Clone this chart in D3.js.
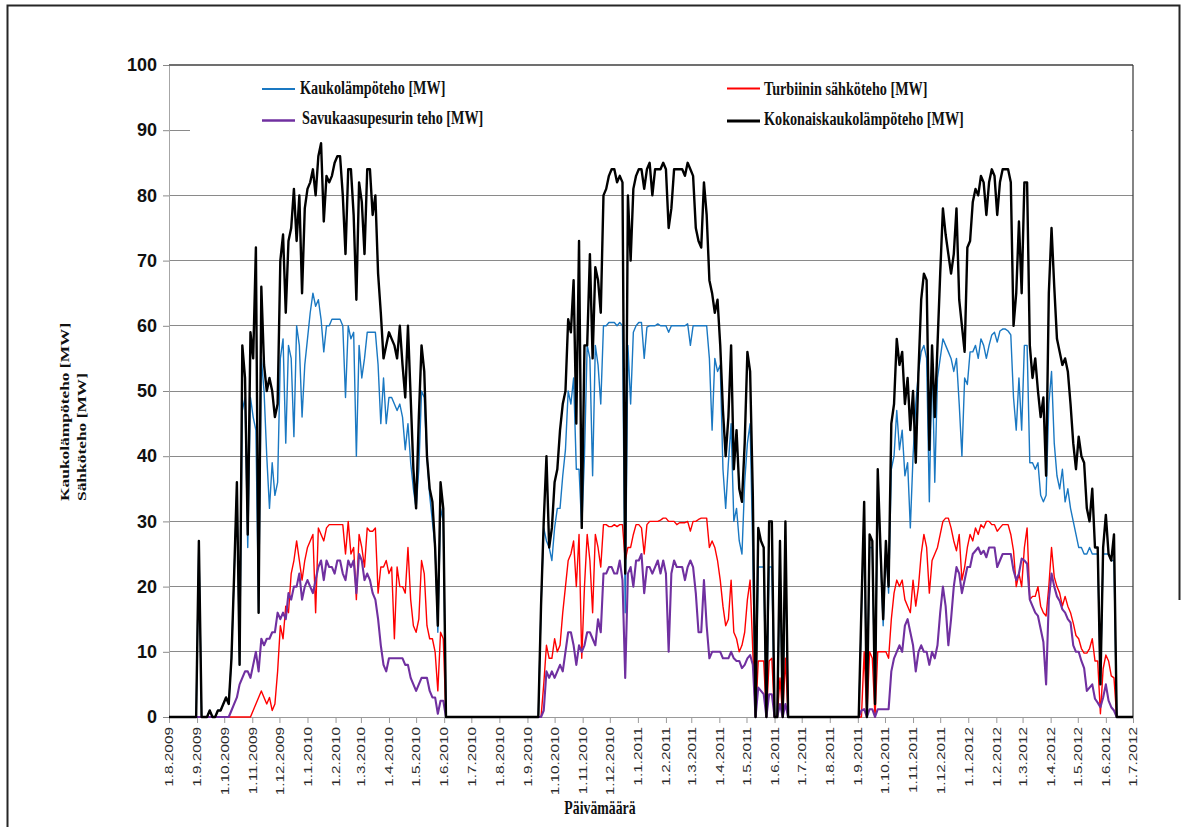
<!DOCTYPE html>
<html><head><meta charset="utf-8">
<script src="https://cdn.jsdelivr.net/npm/d3@7"></script>
<style>html,body{margin:0;padding:0;background:#fff;}svg{display:block;}</style>
</head><body>
<svg id="chart" width="1185" height="827"></svg>
<script>
// ---- data (daily values sampled every 3rd day, 1.8.2009 - 1.7.2012) ----
const startDate = "2009-08-01";
const endDate = "2012-07-01";
const stepDays = 3;

const seriesNames = ["Kaukolämpöteho [MW]", "Turbiinin sähköteho [MW]", "Savukaasupesurin teho [MW]", "Kokonaiskaukolämpöteho [MW]"];

const kaukolampoteho = [
0,0,0,0,0,0,0,0,0,0,
0,27,0,0,0,1,0,0,1,1,
2,3,2,9,22,35,8,47,49,26,
49,46,44,16,55,50,40,32,39,34,
36,55,58,42,57,55,43,60,57,46,
54,58,62,65,63,64,61,56,60,60,
61,61,61,61,60,49,60,58,59,40,
57,52,55,59,59,59,59,54,45,52,
45,49,49,48,47,48,46,41,45,39,
35,32,38,50,49,40,34,30,26,13,
32,30,0,0,0,0,0,0,0,0,
0,0,0,0,0,0,0,0,0,0,
0,0,0,0,0,0,0,0,0,0,
0,0,0,0,0,0,0,17,29,27,
26,24,29,32,32,37,41,50,48,52,
38,38,29,40,57,55,37,57,54,48,
60,60,60.5,60.5,60.5,60,60.5,60,16,57,
48,59,60,60.5,60.5,55,59.8,60,60,60,
60.3,60,60,60,59,60,60,60,60,60,
60,60.3,57,60,60,60,60,60,60,55,
44,55,53,54,38,32,39,45,30,32,
27,25,36,42,45,25,0,23,23,23,
0,23,23,0,0,24,0,25,0,0,
0,0,0,0,0,0,0,0,0,0,
0,0,0,0,0,0,0,0,0,0,
0,0,0,0,0,16,31,0,26,26,
2,36,25,14,26,19,38,40,47,41,
44,37,39,29,40,48,53,56,57,55,
33,56,36,52,55,58,57,56,55,53,
55,48,40,52,51,56,56,57,55,58,
57,55,57,58.6,59,57.5,59.2,59.5,59.5,59.2,
58.6,49,44,52,44,57,57,39,39,38,
39,34,33,34,48,53,42,37,35,38,
33,35,32,30,28,26,26,25,25,26,
25,25,25,5,25,25,25,24,24,0,
0,0,0,0,0,0
];

const turbiininSahkoteho = [
0,0,0,0,0,0,0,0,0,0,
0,0,0,0,0,0,0,0,0,0,
0,0,0,0,0,0,0,0,0,0,
0,1,2,3,4,3,2,3,1,2,
7,14,12,17,16,22,24,27,24,21,
24,26,27,28,16,29,28,27,29,29.5,
29.5,29.5,29.5,29.5,29.5,25,30,25,26,18,
28,26,23,29,28.5,28.5,29,19,23,23,
24,22,23,12,23,20,20,19,26,18,
14,13,15,24,22,14,12,12,10,4,
13,12,0,0,0,0,0,0,0,0,
0,0,0,0,0,0,0,0,0,0,
0,0,0,0,0,0,0,0,0,0,
0,0,0,0,0,0,0,0,5,11,
9,9,12,10,11,16,20,24,25,27,
20,28,9,20,28,24,16,28,26,23,
29.5,29.5,29.2,29.2,29.5,29.2,29.5,29.5,24,26,
26,28,29.5,29.5,29,25,29.5,30,30,30,
30,30.2,30.5,30.5,30,30,30,29.5,29.8,29.8,
29.8,30,28.5,30,30,30.3,30.5,30.5,30.5,26,
27,26,24,21,17,14,15,21,13,12,
10,11,13,18,21,10,0,8.6,8.6,8.6,
0,8.6,9,0,0,6,0,9,0,0,
0,0,0,0,0,0,0,0,0,0,
0,0,0,0,0,0,0,0,0,0,
0,0,0,0,0,0,10,0,10,9,
0,10,10,10,10,9,15,19,21,20,
21,18,17,16,21,17,20,25,28,26,
19,24,25,26,28,30,30.5,30.5,29,27,
25.5,28,21,23,26,28,27,29,28,29.5,
29,30,30,29.5,29.5,28.5,29,29.5,29.5,29.5,
28,25.5,20,22,20,26,29,18,18.5,18.5,
20,17,16,15.5,20,26,21.5,20,19,17,
18.5,17,16,14.4,12.5,12,10.5,9.8,9.8,10.5,
12,8.6,8.6,0.5,7.4,9.5,8.6,6.3,6,0,
0,0,0,0,0,0
];

const savukaasupesurinTeho = [
0,0,0,0,0,0,0,0,0,0,
0,0,0,0,0,0,0,0,0,0,
0,0,0,1,2,3,5,6,7,7,
6,8,10,7,12,11,12,12,13,13,
16,15,16,15,19,18,20,20,22,18,
20,21,20,19,21,23,24,21,24,23,
23,22,24,24,22,21,24,23,24,19,
25,24,21,22,21,19,18,15,11,8,
7,9,9,9,9,9,9,8,8,6,
5,4,5,6,6,6,4,3,3,0.5,
2.5,2.5,0,0,0,0,0,0,0,0,
0,0,0,0,0,0,0,0,0,0,
0,0,0,0,0,0,0,0,0,0,
0,0,0,0,0,0,0,0,1,7,
6,7,6,7,8,7,10,13,13,11,
8,11,10,11,13,13,12,11,15,13,
22,22,23,23,22,22,24,21,6,22,
23,20,24,24,25,19,23,23,22,23,
24,22,24,22,10,22,24,23,23,23,
21,23,24,23,19,13,13,21,14,9,
10,10,10,10,9,9,9,10,9,8.6,
8.6,7.5,8,9,9.5,8,0,4.5,4,3.5,
0,3.5,3.5,0,0,2,0,2,0,0,
0,0,0,0,0,0,0,0,0,0,
0,0,0,0,0,0,0,0,0,0,
0,0,0,0,0,1,1.2,0,1.2,1.2,
0,1.2,1.2,1.2,1.2,1.2,7,9,10,11,
10,14,15,13,11,7,10,11,10,10,
8,10,9,11,16,20,17,11,15,20,
23,22,19,21,23,23,25,25.5,26,25,
25.5,24.5,26,26,26,23,24,25,25,25,
25,22.5,21,22,24.3,24,23.5,18,17,16,
15.5,13.5,11.5,5,18,22,20,18.5,17.8,16.5,
16,15,14.5,11,10,10,8.6,7.5,4,4.5,
5,2.8,2.2,1.5,3,5,2.5,1.5,1,0,
0,0,0,0,0,0
];

const kokonaisKaukolampoteho = [
0,0,0,0,0,0,0,0,0,0,
0,27,0,0,0,1,0,0,1,1,
2,3,2,9,22,36,8,57,52,28,
59,55,72,16,66,54,50,52,50,46,
48,70,74,62,73,75,81,73,80,65,
78,81,82,84,80,86,88,76,83,82,
83,85,86,86,80,71,84,84,77,64,
82,79,71,84,84,77,80,68,62,55,
57,59,58,57,55,60,54,49,60,49,
38,32,46,57,53,40,35,33,26,14,
36,32,0,0,0,0,0,0,0,0,
0,0,0,0,0,0,0,0,0,0,
0,0,0,0,0,0,0,0,0,0,
0,0,0,0,0,0,0,17,30,40,
26,29,36,38,44,48,50,61,59,67,
45,73,29,57,57,71,55,69,67,62,
80,81,83,84,84,82,83,82,22,80,
70,81,83,84,84,81,84,85,80,84,
84,84,85,84,75,78,84,84,84,84,
83,85,84,83,75,73,72,82,77,67,
65,62,64,57,47,40,46,57,38,44,
35,33,42,56,53,34,0,29,27,26,
0,30,30,0,0,27,0,30,0,0,
0,0,0,0,0,0,0,0,0,0,
0,0,0,0,0,0,0,0,0,0,
0,0,0,0,0,17,33,0,28,27,
2,38,26,15,27,20,45,48,58,54,
56,48,52,44,50,39,53,64,68,67,
41,57,46,57,68,78,74,71,68,71,
78,64,60,56,72,73,79,81,80,83,
82,77,82,84,83,77,82,84,84,84,
82,60,65,76,65,82,82,57,52,55,
50,46,49,37,65,75,66,58,56,54,
55,53,48,42,38,43,40,39,32,30,
35,26,26,5,26,31,25,24,28,0,
0,0,0,0,0,0
];

const yTicks = [0,10,20,30,40,50,60,70,80,90,100];
const yTitleLines = ["Kaukolämpöteho [MW]", "Sähköteho [MW]"];
const xTitle = "Päivämäärä";

// ---- drawing ----
const svg = d3.select("#chart");
const parse = d3.utcParse("%Y-%m-%d");
const d0 = parse(startDate), d1 = parse(endDate);

const x = d3.scaleUtc().domain([d0, d1]).range([169, 1133]);
const y = d3.scaleLinear().domain([0, 100]).range([717, 65]);

const serif = "'Liberation Serif','Times New Roman',serif";
const sans = "'Liberation Sans',Arial,sans-serif";

// outer frame
svg.append("path").attr("d", "M7.5,827 V5.5 H1179.5 V600")
  .attr("fill", "none").attr("stroke", "#262626").attr("stroke-width", 2);

// gridlines
svg.append("g").selectAll("line")
  .data(yTicks.filter(v => v > 0 && v < 100))
  .join("line")
  .attr("x1", 169).attr("x2", 1133)
  .attr("y1", d => y(d)).attr("y2", d => y(d))
  .attr("stroke", "#8a8a8a").attr("stroke-width", 1)
  .attr("shape-rendering", "crispEdges");

// legend background (covers gridline behind the legend)
svg.append("rect").attr("x", 190).attr("y", 70).attr("width", 941).attr("height", 68)
  .attr("fill", "#fff");

// x axis
const months = d3.utcMonth.range(d0, d3.utcDay.offset(d1, 1));
const fmt = d => `${d.getUTCDate()}.${d.getUTCMonth() + 1}.${d.getUTCFullYear()}`;
const gx = svg.append("g").attr("transform", "translate(0,717)")
  .call(d3.axisBottom(x).tickValues(months).tickFormat(fmt).tickSize(6).tickSizeOuter(0));
gx.select(".domain").attr("stroke", "#9a9a9a").attr("shape-rendering", "crispEdges");
gx.selectAll(".tick line").attr("stroke", "#9a9a9a");
gx.selectAll(".tick text")
  .attr("x", 0).attr("y", 0).attr("dy", "0.36em")
  .attr("transform", "translate(0,10) rotate(-90) scale(1.45,1)")
  .attr("text-anchor", "end")
  .attr("font-family", sans).attr("font-size", 10.6).attr("fill", "#2a2a2a");

// y axis
const gy = svg.append("g").attr("transform", "translate(169,0)")
  .call(d3.axisLeft(y).tickValues(yTicks).tickSize(6).tickPadding(6).tickSizeOuter(0));
gy.select(".domain").attr("stroke", "#a6a6a6").attr("shape-rendering", "crispEdges");
gy.selectAll(".tick line").attr("stroke", "#8a8a8a");
gy.selectAll(".tick text")
  .attr("font-family", sans).attr("font-weight", "bold").attr("font-size", 18).attr("fill", "#111");

// plot top and right borders
svg.append("line").attr("x1", 169).attr("x2", 1133).attr("y1", y(100)).attr("y2", y(100))
  .attr("stroke", "#404040").attr("stroke-width", 1.3);
svg.append("line").attr("x1", x(d1)).attr("x2", x(d1)).attr("y1", y(100)).attr("y2", y(0))
  .attr("stroke", "#333").attr("stroke-width", 1.2);

// series
const toPoints = arr => arr.map((v, i) => ({ date: d3.utcDay.offset(d0, i * stepDays), value: v }));
const line = d3.line().x(d => x(d.date)).y(d => y(d.value));
const series = [
  { name: seriesNames[0], values: kaukolampoteho, color: "#1a78c2", width: 1.4 },
  { name: seriesNames[1], values: turbiininSahkoteho, color: "#ff0000", width: 1.4 },
  { name: seriesNames[2], values: savukaasupesurinTeho, color: "#7030a0", width: 2.1 },
  { name: seriesNames[3], values: kokonaisKaukolampoteho, color: "#000000", width: 2.4 }
];
svg.append("g").selectAll("path").data(series).join("path")
  .attr("d", s => line(toPoints(s.values)))
  .attr("fill", "none")
  .attr("stroke", s => s.color)
  .attr("stroke-width", s => s.width)
  .attr("stroke-linejoin", "round");

// legend
const legendItems = [
  { s: series[0], lx: 262, ly: 89, tx: 300, ty: 93.5 },
  { s: series[2], lx: 262, ly: 120.5, tx: 302, ty: 123.5 },
  { s: series[1], lx: 727, ly: 88.5, tx: 764, ty: 94.5 },
  { s: series[3], lx: 727, ly: 121, tx: 764, ty: 124.5 }
];
const lg = svg.append("g");
legendItems.forEach(it => {
  lg.append("line").attr("x1", it.lx).attr("x2", it.lx + 33).attr("y1", it.ly).attr("y2", it.ly)
    .attr("stroke", it.s.color).attr("stroke-width", it.s.width + 0.6);
  lg.append("text").attr("transform", `translate(${it.tx},${it.ty}) scale(1,1.3)`)
    .attr("font-family", serif).attr("font-weight", "bold").attr("font-size", 14.2)
    .attr("fill", "#111").text(it.s.name);
});

// axis titles
yTitleLines.forEach((t, k) => {
  svg.append("text")
    .attr("transform", `translate(${69 + k * 17},501) rotate(-90) scale(1.45,1)`)
    .attr("text-anchor", "start")
    .attr("font-family", serif).attr("font-weight", "bold").attr("font-size", 12)
    .attr("fill", "#111").text(t);
});
svg.append("text")
  .attr("transform", "translate(600,814) scale(1,1.3)")
  .attr("text-anchor", "middle")
  .attr("font-family", serif).attr("font-weight", "bold").attr("font-size", 13.8)
  .attr("fill", "#111").text(xTitle);
</script>
</body></html>
